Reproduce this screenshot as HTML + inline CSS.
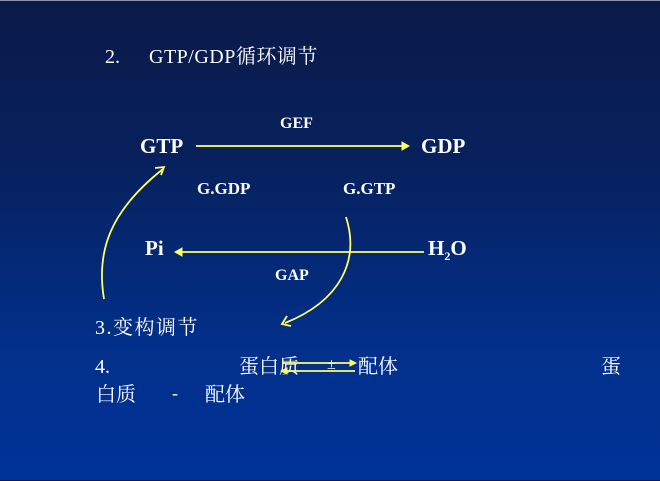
<!DOCTYPE html>
<html><head><meta charset="utf-8"><style>
html,body{margin:0;padding:0}
body{width:660px;height:480px;position:relative;overflow:hidden;background:linear-gradient(#0b1a48 0%,#07215e 35%,#022f88 70%,#003399 100%);border-top:1px solid #8a90a8;box-sizing:border-box}
.t{position:absolute;color:#fff;white-space:nowrap;line-height:1}
.b{font-family:"Liberation Serif",serif;font-weight:bold}
.z{font-family:"Liberation Serif","Noto Serif CJK SC",serif;font-size:20px}
</style></head><body>
<div class="t z" style="left:105px;top:46px">2.</div>
<div class="t z" style="left:149px;top:46px;letter-spacing:0.5px">GTP/GDP循环调节</div>
<div class="t b" style="left:140px;top:135px;font-size:21px">GTP</div>
<div class="t b" style="left:421px;top:135px;font-size:21px">GDP</div>
<div class="t b" style="left:280px;top:115px;font-size:16px">GEF</div>
<div class="t b" style="left:197px;top:179px;font-size:17px">G.GDP</div>
<div class="t b" style="left:343px;top:179px;font-size:17px">G.GTP</div>
<div class="t b" style="left:145px;top:237px;font-size:21px">Pi</div>
<div class="t b" style="left:428px;top:237px;font-size:21px">H<sub style="font-size:12px">2</sub>O</div>
<div class="t b" style="left:275px;top:267px;font-size:16px">GAP</div>
<div class="t z" style="left:95px;top:317px;letter-spacing:1.5px">3.变构调节</div>
<div class="t z" style="left:95px;top:356px">4.</div>
<div class="t z" style="left:239px;top:356px">蛋白质</div>
<div class="t" style="left:327px;top:356px;font-size:16px;font-family:'Liberation Serif',serif">±</div>
<div class="t z" style="left:358px;top:356px">配体</div>
<div class="t z" style="left:601px;top:356px">蛋</div>
<div class="t z" style="left:96px;top:384px">白质</div>
<div class="t" style="left:172px;top:383px;font-size:18px;font-family:'Liberation Serif',serif">-</div>
<div class="t z" style="left:205px;top:384px">配体</div>
<svg width="660" height="480" style="position:absolute;left:0;top:0" fill="none" stroke="#ffff66" stroke-width="1.8">
<line x1="196" y1="145" x2="404" y2="145"/><path d="M402,141 L409,145 L402,149Z" fill="#ffff66" stroke-width="1"/>
<line x1="424" y1="251" x2="180" y2="251"/><path d="M182,247 L175,251 L182,255Z" fill="#ffff66" stroke-width="1"/>
<path d="M104,298 C96,250 110,210 163,168"/><path d="M155,167 L164,166 L161,174" />
<path d="M346,216 C360,260 340,300 285,322"/><path d="M287,315 L282,323 L291,325"/>
<line x1="282" y1="362" x2="353" y2="362"/><path d="M350,359 L356,362 L350,365Z" fill="#ffff66" stroke-width="1"/>
<line x1="284" y1="370" x2="355" y2="370"/><path d="M287,367 L281,370 L287,373Z" fill="#ffff66" stroke-width="1"/>
</svg>
</body></html>
